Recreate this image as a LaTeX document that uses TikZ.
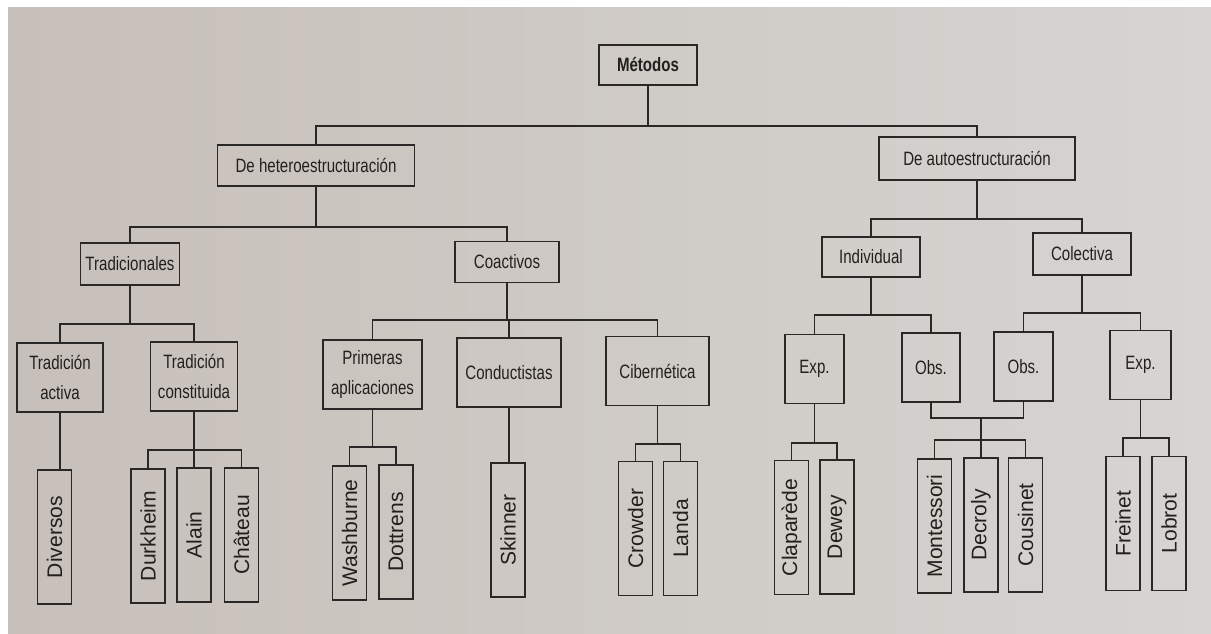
\documentclass[tikz,border=0pt]{standalone}
\usepackage{fontspec}
\usepackage{graphicx}
\setmainfont{Liberation Sans}
\newfontfamily\condfont{Liberation Sans}[FakeStretch=0.78]
\definecolor{linea}{RGB}{42,40,38}
\definecolor{tinta}{RGB}{34,32,30}
\definecolor{fondoA}{RGB}{199,191,185}
\definecolor{fondoB}{RGB}{214,213,210}
\tikzset{
    caja/.style={draw=linea, line width=1pt, text=tinta, inner sep=2pt, align=center,
        font=\condfont\fontsize{11}{17}\selectfont},
    nivel/.style={caja, minimum height=1.38cm},
    autor/.style={draw=linea, line width=1pt, text=tinta, inner sep=0pt,
        minimum width=0.68cm, minimum height=2.68cm, font=\fontsize{12}{14}\selectfont},
    rama/.style={draw=linea, line width=1pt}
}
\begin{document}
\begin{tikzpicture}[x=0.02cm, y=-0.02cm]
\useasboundingbox (0,0) rectangle (1211,634);
\fill[left color=fondoA, right color=fondoB] (0,0) rectangle (1211,634);
\fill[white] (0,0) rectangle (1211,7);
\fill[white] (0,0) rectangle (8,634);

\node[caja, minimum width=1.96cm, minimum height=0.80cm, font=\condfont\bfseries\fontsize{11}{13}\selectfont] (met) at (648,65) {Métodos};
\node[caja, minimum width=3.94cm, minimum height=0.82cm] (het) at (316,165.5) {De heteroestructuración};
\node[caja, minimum width=3.92cm, minimum height=0.86cm] (aut) at (977,158.5) {De autoestructuración};

\node[caja, minimum width=1.98cm, minimum height=0.84cm] (tra) at (130,264) {Tradicionales};
\node[caja, minimum width=2.08cm, minimum height=0.82cm] (coa) at (507,262) {Coactivos};
\node[caja, minimum width=1.96cm, minimum height=0.80cm] (ind) at (871,257) {Individual};
\node[caja, minimum width=1.96cm, minimum height=0.84cm] (col) at (1082,254) {Colectiva};

\node[nivel, minimum width=1.72cm] (ta) at (60,377.5) {Tradición\\activa};
\node[nivel, minimum width=1.74cm] (tc) at (194,376.5) {Tradición\\constituida};
\node[nivel, minimum width=1.98cm] (pa) at (372.5,374.5) {Primeras\\aplicaciones};
\node[nivel, minimum width=2.08cm] (con) at (509,372.5) {Conductistas};
\node[nivel, minimum width=2.06cm] (cib) at (657.5,371) {Cibernética};
\node[nivel, minimum width=1.18cm] (ei) at (814.5,369) {Exp.};
\node[nivel, minimum width=1.16cm] (oi) at (931,367.5) {Obs.};
\node[nivel, minimum width=1.18cm] (oc) at (1023.5,366.5) {Obs.};
\node[nivel, minimum width=1.22cm] (ec) at (1140.5,365) {Exp.};

\foreach \n/\t/\x/\y in {div/Diversos/54.5/537, dur/Durkheim/148/536, ala/Alain/194/535,
        cha/Château/241.5/535, was/Washburne/349.5/533, dot/Dottrens/396/532,
        ski/Skinner/508/530, cro/Crowder/635.5/528.5, lan/Landa/680.5/528.5,
        cla/Claparède/791.5/527.5, dew/Dewey/837/527, mon/Montessori/934.5/526,
        dec/Decroly/981/525, cou/Cousinet/1025.5/525, fre/Freinet/1123/523.5,
        lob/Lobrot/1169/523.5} {
    \node[autor] (\n) at (\x,\y) {\rotatebox{90}{\t}};
};

% ramas
\draw[rama] (met.south) -- (met.south |- 0,126);
\draw[rama] (het.north) |- (aut.north |- 0,126) -- (aut.north);
\draw[rama] (het.south) -- (het.south |- 0,227);
\draw[rama] (tra.north) |- (coa.north |- 0,227) -- (coa.north);
\draw[rama] (aut.south) -- (aut.south |- 0,219);
\draw[rama] (ind.north) |- (col.north |- 0,219) -- (col.north);

\draw[rama] (tra.south) -- (tra.south |- 0,324);
\draw[rama] (ta.north) |- (tc.north |- 0,324) -- (tc.north);
\draw[rama] (coa.south) -- (coa.south |- 0,320);
\draw[rama] (pa.north) |- (cib.north |- 0,320) -- (cib.north);
\draw[rama] (con.north) -- (con.north |- 0,320);
\draw[rama] (ind.south) -- (ind.south |- 0,315);
\draw[rama] (ei.north) |- (oi.north |- 0,315) -- (oi.north);
\draw[rama] (col.south) -- (col.south |- 0,313);
\draw[rama] (oc.north) |- (ec.north |- 0,313) -- (ec.north);

\draw[rama] (ta.south) -- (ta.south |- div.north);
\draw[rama] (tc.south) -- (ala.north);
\draw[rama] (dur.north) |- (cha.north |- 0,450) -- (cha.north);
\draw[rama] (pa.south) -- (pa.south |- 0,447);
\draw[rama] (was.north) |- (dot.north |- 0,447) -- (dot.north);
\draw[rama] (con.south) -- (con.south |- ski.north);
\draw[rama] (cib.south) -- (cib.south |- 0,444);
\draw[rama] (cro.north) |- (lan.north |- 0,444) -- (lan.north);
\draw[rama] (ei.south) -- (ei.south |- 0,443);
\draw[rama] (cla.north) |- (dew.north |- 0,443) -- (dew.north);
\draw[rama] (oi.south) |- (oc.south |- 0,418) -- (oc.south);
\draw[rama] (dec.north) -- (dec.north |- 0,418);
\draw[rama] (mon.north) |- (cou.north |- 0,440) -- (cou.north);
\draw[rama] (ec.south) -- (ec.south |- 0,438);
\draw[rama] (fre.north) |- (lob.north |- 0,438) -- (lob.north);
\end{tikzpicture}
\end{document}
